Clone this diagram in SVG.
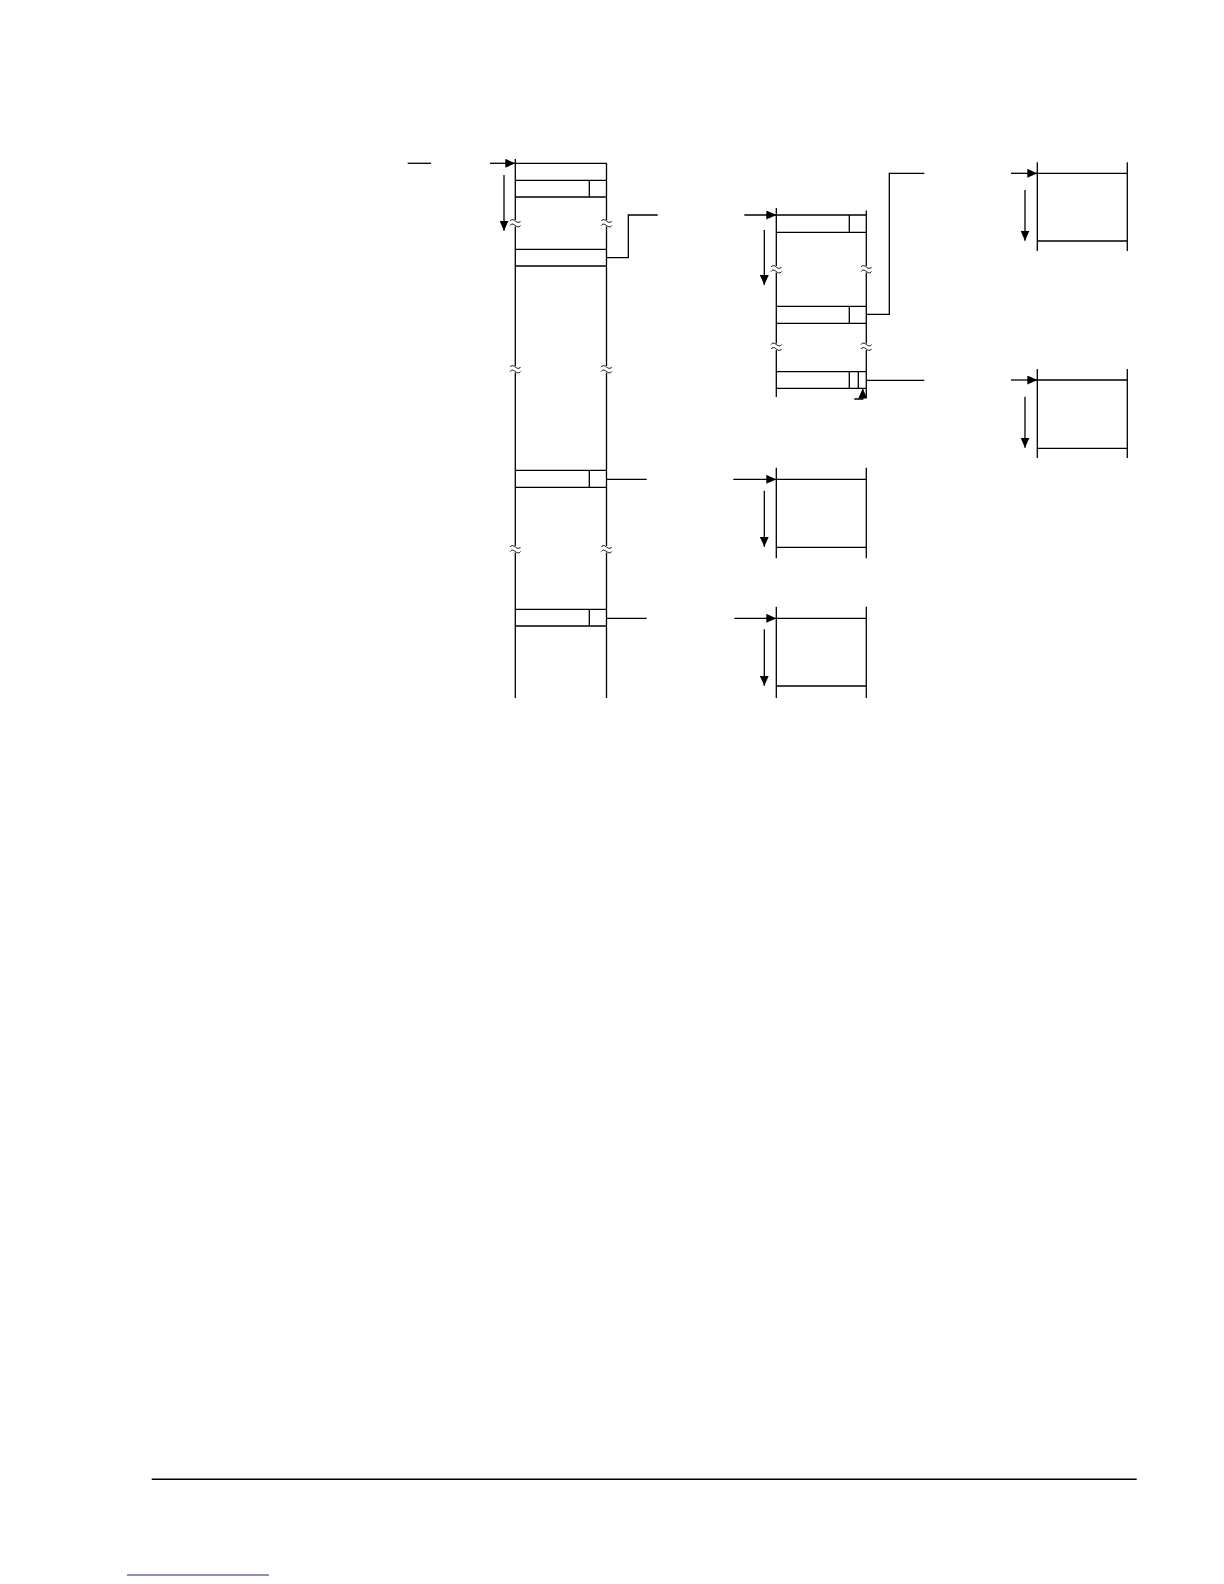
<svg xmlns="http://www.w3.org/2000/svg" width="1224" height="1584" viewBox="0 0 1224 1584">
<defs>
<style>
.l{stroke:#000;stroke-width:1.3;fill:none}
.w{stroke:#000;stroke-width:1;fill:none}
.a{stroke:#000;stroke-width:1.3;fill:none;marker-end:url(#ah)}
</style>
<marker id="ah" markerUnits="userSpaceOnUse" markerWidth="10" markerHeight="9" refX="10" refY="4.5" orient="auto">
<path d="M0,0 L10,4.5 L0,9 z" fill="#000"/>
</marker>
</defs>
<rect width="1224" height="1584" fill="#fff"/>

<g id="col-main">
<path class="l" d="M515.3,159 V220 M515.3,226.5 V366 M515.3,372.5 V546 M515.3,552.5 V698"/>
<path class="l" d="M606.5,163.3 V220 M606.5,226.5 V366 M606.5,372.5 V546 M606.5,552.5 V698"/>
<path class="w" d="M510,221 c2,-2.5 4,-1 5.3,0 s3.5,2.5 5.3,0 M510,225.5 c2,-2.5 4,-1 5.3,0 s3.5,2.5 5.3,0"/>
<path class="w" d="M601.2,221 c2,-2.5 4,-1 5.3,0 s3.5,2.5 5.3,0 M601.2,225.5 c2,-2.5 4,-1 5.3,0 s3.5,2.5 5.3,0"/>
<path class="w" d="M510,367 c2,-2.5 4,-1 5.3,0 s3.5,2.5 5.3,0 M510,371.5 c2,-2.5 4,-1 5.3,0 s3.5,2.5 5.3,0"/>
<path class="w" d="M601.2,367 c2,-2.5 4,-1 5.3,0 s3.5,2.5 5.3,0 M601.2,371.5 c2,-2.5 4,-1 5.3,0 s3.5,2.5 5.3,0"/>
<path class="w" d="M510,547 c2,-2.5 4,-1 5.3,0 s3.5,2.5 5.3,0 M510,551.5 c2,-2.5 4,-1 5.3,0 s3.5,2.5 5.3,0"/>
<path class="w" d="M601.2,547 c2,-2.5 4,-1 5.3,0 s3.5,2.5 5.3,0 M601.2,551.5 c2,-2.5 4,-1 5.3,0 s3.5,2.5 5.3,0"/>
<path class="l" d="M515.3,163.3 H606.5"/>
<path class="l" d="M515.3,180.3 H606.5 M515.3,197 H606.5 M589.3,180.3 V197"/>
<path class="l" d="M515.3,249.3 H606.5 M515.3,266 H606.5"/>
<path class="l" d="M515.3,470.3 H606.5 M515.3,487.3 H606.5 M589.3,470.3 V487.3"/>
<path class="l" d="M515.3,609.3 H606.5 M515.3,626 H606.5 M589.3,609.3 V626"/>
</g>

<g id="col-2">
<path class="l" d="M776.3,208 V266 M776.3,272.5 V343.5 M776.3,350 V397"/>
<path class="l" d="M866.3,210.5 V266 M866.3,272.5 V343.5 M866.3,350 V397"/>
<path class="w" d="M771,267 c2,-2.5 4,-1 5.3,0 s3.5,2.5 5.3,0 M771,271.5 c2,-2.5 4,-1 5.3,0 s3.5,2.5 5.3,0"/>
<path class="w" d="M861,267 c2,-2.5 4,-1 5.3,0 s3.5,2.5 5.3,0 M861,271.5 c2,-2.5 4,-1 5.3,0 s3.5,2.5 5.3,0"/>
<path class="w" d="M771,344.5 c2,-2.5 4,-1 5.3,0 s3.5,2.5 5.3,0 M771,349 c2,-2.5 4,-1 5.3,0 s3.5,2.5 5.3,0"/>
<path class="w" d="M861,344.5 c2,-2.5 4,-1 5.3,0 s3.5,2.5 5.3,0 M861,349 c2,-2.5 4,-1 5.3,0 s3.5,2.5 5.3,0"/>
<path class="l" d="M776.3,215 H866.3 M776.3,232.3 H866.3 M849.3,215 V232.3"/>
<path class="l" d="M776.3,306.3 H866.3 M776.3,323.3 H866.3 M849.3,306.3 V323.3"/>
<path class="l" d="M776.3,371.7 H866.3 M776.3,388.3 H866.3 M849.3,371.7 V388.3 M858.3,371.7 V388.3"/>
</g>

<g id="box-r1">
<path class="l" d="M1037.3,162.3 V251 M1127.3,162.3 V251 M1037.3,173.3 H1127.3 M1037.3,241 H1127.3"/>
</g>
<g id="box-r2">
<path class="l" d="M1037.3,369 V458 M1127.3,369 V458 M1037.3,380 H1127.3 M1037.3,448.3 H1127.3"/>
</g>
<g id="box-b3">
<path class="l" d="M776.3,467.7 V558.3 M866.3,467.7 V558.3 M776.3,479.3 H866.3 M776.3,547.3 H866.3"/>
</g>
<g id="box-b4">
<path class="l" d="M776.3,606.7 V698 M866.3,606.7 V698 M776.3,618.3 H866.3 M776.3,686 H866.3"/>
</g>

<g id="connectors">
<path class="l" d="M407.7,163.3 H431"/>
<path class="a" d="M490,163.3 H515.3"/>
<path class="a" d="M504,175 V230.7"/>
<path class="l" d="M606.5,257.7 H628.3 V215 H657.7"/>
<path class="a" d="M744.3,215 H776.3"/>
<path class="a" d="M764.3,230 V285"/>
<path class="l" d="M866.3,314.3 H889.3 V173.3 H924.3"/>
<path class="a" d="M1011,173.3 H1037.3"/>
<path class="a" d="M1025,190 V240.7"/>
<path class="l" d="M866.3,380.3 H924.3"/>
<path class="a" d="M1011,380 H1037.3"/>
<path class="a" d="M1025,396.7 V447.7"/>
<path class="a" d="M854.3,399 H862.7 V388.5"/>
<path class="l" d="M606.5,479.3 H646.7"/>
<path class="a" d="M733.3,479.3 H776.3"/>
<path class="a" d="M764.3,490.7 V546.7"/>
<path class="l" d="M606.5,618.3 H646.7"/>
<path class="a" d="M734.3,618.3 H776.3"/>
<path class="a" d="M764.3,629.3 V685.7"/>
</g>

<g id="footer">
<path d="M151.7,1479.3 H1136.7" stroke="#000" stroke-width="1.4"/>
<path d="M127,1575 H269" stroke="#1c1c8e" stroke-width="1.2"/>
</g>
</svg>
